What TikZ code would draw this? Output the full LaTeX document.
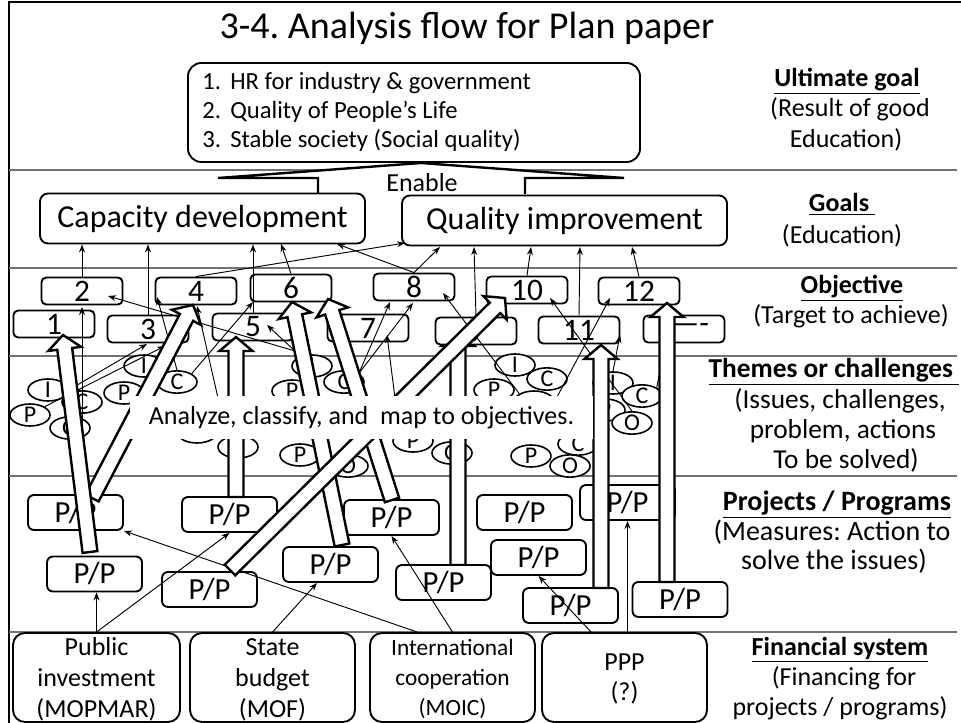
\documentclass[tikz,border=0pt]{standalone}
\usepackage{fontspec}
\setmainfont{Carlito}
\usetikzlibrary{arrows.meta,calc,shapes.geometric}
\frenchspacing
\newcommand\bigarrow[2]{%
  \path let \p1=(#1), \p2=(#2) in \pgfextra{%
    \pgfmathsetmacro\tmpang{atan2((\y2)-(\y1),(\x2)-(\x1))}\global\let\baang\tmpang
    \pgfmathsetmacro\tmplen{veclen((\x2)-(\x1),(\y2)-(\y1))}\global\let\balen\tmplen
    \xdef\bax{\x1}\xdef\bay{\y1}};
  \begin{scope}[shift={(\bax,\bay)},rotate=\baang]
    \draw[bigarr] (0pt,-5.6pt) -- ({\balen pt-10.5pt},-5.6pt) -- ({\balen pt-10.5pt},-12.4pt)
      -- (\balen pt,0pt) -- ({\balen pt-10.5pt},12.4pt) -- ({\balen pt-10.5pt},5.6pt) -- (0pt,5.6pt) -- cycle;
  \end{scope}}
\begin{document}
\begin{tikzpicture}[x=0.75pt,y=-0.75pt,
  lay/.style={draw=black!55, line width=1.1pt},
  objbox/.style={draw, fill=white, rounded corners=3.5pt, line width=1.4pt, minimum width=60.75pt, minimum height=20.25pt, inner sep=0pt, font=\fontsize{23.5}{28}\selectfont},
  ppbox/.style={draw, fill=white, rounded corners=4.5pt, line width=1.4pt, minimum width=71.25pt, minimum height=26.25pt, inner sep=0pt, font=\fontsize{23}{28}\selectfont},
  finbox/.style={draw, fill=white, rounded corners=9pt, line width=1.4pt, minimum height=66.75pt, minimum width=123.75pt, inner sep=0pt},
  goalbox/.style={draw, fill=white, rounded corners=6pt, line width=1.4pt, minimum height=37.5pt, minimum width=243.75pt, inner sep=0pt, font=\fontsize{24}{29}\selectfont},
  oval/.style={ellipse, draw, fill=white, line width=1.2pt, minimum width=30pt, minimum height=16.5pt, inner sep=0pt, font=\fontsize{18}{20}\selectfont},
  tarr/.style={-{Stealth[length=6pt,width=4.5pt]}, line width=0.7pt},
  bigarr/.style={draw, fill=white, line width=1.8pt, line join=miter},
  rlab/.style={anchor=base, inner sep=0pt, font=\fontsize{19.5}{24}\selectfont},
  rlabb/.style={anchor=base, inner sep=0pt, font=\fontsize{20.5}{24}\selectfont},
  rlabc/.style={anchor=base, inner sep=0pt, font=\fontsize{21}{25}\selectfont},
  rlabd/.style={anchor=base, inner sep=0pt, font=\fontsize{19.5}{24}\selectfont},
  txt/.style={anchor=base, inner sep=0pt},
]
\useasboundingbox (0,0) rectangle (961,723);
% frame and layer lines
\draw[line width=2.2pt] (9,725) -- (9,2) -- (963,2);
\foreach \yy in {170,268,356,476,632} \draw[lay] (9,\yy) -- (957,\yy);
% title
\node[txt, font=\fontsize{28.5}{34}\selectfont] (title) at (467,39) {3-4. Analysis flow for Plan paper};
% ultimate goal
\node[draw, rounded corners=10pt, line width=1.4pt, minimum width=339pt, minimum height=74.25pt] (ult) at (414,112.5) {};
\begin{scope}[every node/.style={txt, anchor=base west, font=\fontsize{18.5}{22}\selectfont}]
\node (u1n) at (202,90) {1.};  \node (u1t) at (230,90) {HR for industry \& government};
\node (u2n) at (202,119) {2.}; \node (u2t) at (230,119) {Quality of People’s Life};
\node (u3n) at (202,148) {3.}; \node (u3t) at (230,148) {Stable society (Social quality)};
\end{scope}
% enable arrow
\filldraw[fill=white, line width=1.8pt, line join=miter] (318,194) -- (318,178) -- (218,178) -- (421,163) -- (624,178) -- (525,178) -- (525,194);
\node[txt, font=\fontsize{19.5}{24}\selectfont] (enable) at (422,191.5) {Enable};
% goals
\node[goalbox] (cap) at (202.5,218.5) {Capacity development};
\node[goalbox] (qual) at (564.5,220.5) {Quality improvement};
% themes ovals
\node[oval] (e1) at (48,390) {I};
\node[oval] (e2) at (30,415) {P};
\node[oval] (e3) at (82,402) {C};
\node[oval] (e4) at (70,428) {O};
\node[oval] (e5) at (144,366) {I};
\node[oval] (e6) at (124,393) {P};
\node[oval] (e7) at (177,382) {C};
\node[oval] (e8) at (197,432) {};
\node[oval] (e9) at (238,447) {P};
\node[oval] (e10) at (312,366) {I};
\node[oval] (e12) at (292,391) {P};
\node[oval] (e11) at (344,382) {C};
\node[oval] (e13) at (300,455) {P};
\node[oval] (e14) at (348,466) {O};
\node[oval] (e15) at (413,441) {P};
\node[oval] (e16) at (452,453) {O};
\node[oval] (e17) at (531,456) {P};
\node[oval] (e19) at (578,444) {C};
\node[oval] (e18) at (570,466) {O};
\node[oval] (e20) at (515,365) {I};
\node[oval] (e22) at (494,390) {P};
\node[oval] (e23) at (534,402) {};
\node[oval] (e21) at (547,379) {C};
\node[oval] (e27) at (605,410) {P};
\node[oval] (e24) at (613,383) {I};
\node[oval] (e25) at (642,396) {C};
\node[oval] (e26) at (632,423) {O};
% arrow hidden under box 9
\coordinate (a7s) at (458,565); \coordinate (a7e) at (458,332);
\bigarrow{a7s}{a7e}
% objective boxes
\node[objbox] (o2) at (82,291) {2};
\node[objbox] (o4) at (196,291) {4};
\node[objbox] (o6) at (291,288) {6};
\node[objbox] (o8) at (414,287) {8};
\node[objbox] (o10) at (527,290) {10};
\node[objbox] (o12) at (639,291) {12};
\node[objbox] (o1) at (54,324) {1};
\node[objbox] (o3) at (148,329) {3};
\node[objbox] (o5) at (253,327) {5};
\node[objbox] (o7) at (368,328) {7};
\node[objbox] (o9) at (476,331) {9};
\node[objbox] (o11) at (579,330) {11};
\node[objbox] (o13) at (684,329) {\hspace*{9pt}----};
% thin arrows objectives -> goals
\coordinate (g6) at (281,244);  \coordinate (g8a) at (337,244);
\coordinate (g4) at (405,243);  \coordinate (g8b) at (440,247);
\coordinate (g9) at (474,247);  \coordinate (g10) at (531,247);
\coordinate (g11) at (580,247); \coordinate (g12) at (632,247);
\draw[tarr] (o2.north) -- (o2.north |- cap.south);
\draw[tarr] (o3.north) -- (o3.north |- cap.south);
\draw[tarr] (o5.north) -- (o5.north |- cap.south);
\draw[tarr] (o6.north) -- (g6);
\draw[tarr] (o8.north) -- (g8a);
\draw[tarr] (o4.north) -- (g4);
\draw[tarr] (o8.north) -- (g8b);
\draw[tarr] (o9.north) -- (g9);
\draw[tarr] (o10.north) -- (g10);
\draw[tarr] (o11.north) -- (g11);
\draw[tarr] (o12.north) -- (g12);
% thin arrows themes -> objectives
\coordinate (s1) at (295,351);  \coordinate (h2a) at (108,296); \coordinate (h5a) at (267,325);
\coordinate (t2s) at (82,495);  \coordinate (t2e) at (82,307);
\coordinate (h3a) at (147,344); \coordinate (h3b) at (165,346);
\coordinate (h4a) at (157,297); \coordinate (s6) at (218,398); \coordinate (h4b) at (197,306);
\coordinate (h6a) at (253,302); \coordinate (s9) at (395,398); \coordinate (h7a) at (387,335);
\coordinate (h8a) at (390,302); \coordinate (h8b) at (413,303); \coordinate (h8c) at (443,293);
\coordinate (h10a) at (550,298); \coordinate (h11a) at (620,335);
\coordinate (s14) at (557,397); \coordinate (h12a) at (610,298); \coordinate (h13a) at (665,345);
\draw[tarr] (s1) -- (h2a);
\draw[tarr] (s1) -- (h5a);
\draw[tarr] (t2s) -- (t2e);
\draw[tarr] (e1.east) -- (h3a);
\draw[tarr] (e2.north east) -- (h3b);
\draw[tarr] (e7.north) -- (h4a);
\draw[tarr] (s6) -- (h4b);
\draw[tarr] (e7.north east) -- (h6a);
\draw[tarr] (s9) -- (h7a);
\draw[tarr] (e11.north east) -- (h8a);
\draw[tarr] (e11.north east) -- (h8b);
\draw[tarr] (e23.north west) -- (h8c);
\draw[tarr] (e26.north) -- (h10a);
\draw[tarr] (e24.north) -- (h11a);
\draw[tarr] (s14) -- (h12a);
\draw[tarr] (e25.north east) -- (h13a);
% projects / programs
\node[ppbox] (ppA) at (75.5,512.5) {P/P};
\node[ppbox] (ppB) at (94.5,574) {P/P};
\node[ppbox] (ppC) at (229.5,514.5) {P/P};
\node[ppbox] (ppD) at (209.5,589.5) {P/P};
\node[ppbox] (ppE) at (330.5,564.5) {P/P};
\node[ppbox] (ppF) at (391.5,517.5) {P/P};
\node[ppbox] (ppG) at (443.5,582.5) {P/P};
\node[ppbox] (ppH) at (524.5,512.5) {P/P};
\node[ppbox] (ppI) at (538.5,557.5) {P/P};
\node[ppbox] (ppJ) at (570.5,605.5) {P/P};
\node[ppbox] (ppK) at (627.5,502.5) {P/P};
\node[ppbox] (ppL) at (680,599.5) {P/P};
% financial system
\node[finbox, minimum width=125.25pt] (pub) at (96.5,677.5) {};
\node[finbox] (state) at (272.5,677.5) {};
\node[finbox] (intl) at (452.5,677.5) {};
\node[finbox] (ppp) at (624.5,677.5) {};
\begin{scope}[every node/.style={txt, font=\fontsize{19.5}{24}\selectfont}]
\node (pub1) at (96.5,655) {Public};
\node (pub2) at (96.5,686) {investment};
\node (pub3) at (96.5,717) {(MOPMAR)};
\node (st1) at (272.5,655) {State};
\node (st2) at (272.5,686) {budget};
\node (st3) at (272.5,717) {(MOF)};
\node (pp1) at (624.5,670) {PPP};
\node (pp2) at (624.5,700) {(?)};
\end{scope}
\begin{scope}[every node/.style={txt, font=\fontsize{17.5}{22}\selectfont}]
\node (in1) at (452.5,655) {International};
\node (in2) at (452.5,685) {cooperation};
\node (in3) at (452.5,715) {(MOIC)};
\end{scope}
\coordinate (hE) at (317,583); \coordinate (f4s) at (417,632); \coordinate (f6s) at (592,633);
\draw[tarr] (pub.north) -- (pub.north |- ppB.south);
\draw[tarr] (pub.north) -- (ppC.south);
\draw[tarr] (state.north) -- (hE);
\draw[tarr] (f4s) -- (ppA.south east);
\draw[tarr] (intl.north) -- (ppF.south);
\draw[tarr] (f6s) -- (ppI.south);
\draw[tarr] (ppK.south |- ppp.north) -- (ppK.south);
% big arrows
\coordinate (a1s) at (90,552);  \coordinate (a1e) at (63,335);
\coordinate (a2s) at (92,498);  \coordinate (a2e) at (193,305);
\coordinate (a3s) at (236,497); \coordinate (a3e) at (236,337);
\coordinate (a4s) at (342,545); \coordinate (a4e) at (292,302);
\coordinate (a5s) at (392,500); \coordinate (a5e) at (328,299);
\coordinate (a6s) at (230,570); \coordinate (a6e) at (505,298);
\coordinate (a8s) at (601,588); \coordinate (a8e) at (601,345);
\coordinate (a9s) at (667,582); \coordinate (a9e) at (667,303);
\bigarrow{a2s}{a2e}
\bigarrow{a1s}{a1e}
\bigarrow{a3s}{a3e}
\bigarrow{a4s}{a4e}
\bigarrow{a5s}{a5e}
\bigarrow{a6s}{a6e}
\bigarrow{a8s}{a8e}
\bigarrow{a9s}{a9e}
% analyze box
\node[fill=white, minimum width=347.25pt, minimum height=32.25pt, inner sep=0pt, font=\fontsize{19.5}{24}\selectfont] (ana) at (361.5,417.5) {Analyze, classify, and\ \ map to objectives.};
\draw[densely dotted, line width=0.8pt] (ana.north east) -- (ana.south east);
% right labels
\node[rlab] (r1) at (847,87) {\textbf{\underline{Ultimate goal}}};
\node[rlab] (r2) at (850,117) {(Result of good};
\node[rlab] (r3) at (846,148) {Education)};
\node[rlab] (r4) at (842,212) {\textbf{\underline{Goals\ }}};
\node[rlab] (r5) at (842,244) {(Education)};
\node[rlab] (r6) at (852,294) {\textbf{\underline{Objective}}};
\node[rlab] (r7) at (851,324) {(Target to achieve)};
\node[rlabb] (r8) at (834,378) {\textbf{\underline{Themes or challenges\ }}};
\node[rlabb] (r9) at (840,409) {(Issues, challenges,};
\node[rlabb] (r10) at (843,439) {problem, actions};
\node[rlabb] (r11) at (846,469) {To be solved)};
\node[rlabc] (r12) at (837,511) {\textbf{\underline{Projects / Programs}}};
\node[rlabc] (r13) at (832,541) {(Measures: Action to};
\node[rlabc] (r14) at (834,570) {solve the issues)};
\node[rlabd] (r15) at (840,655) {\textbf{\underline{Financial system}}};
\node[rlabd] (r16) at (844,685) {(Financing for};
\node[rlabd] (r17) at (840,715) {projects / programs)};
\end{tikzpicture}
\end{document}
